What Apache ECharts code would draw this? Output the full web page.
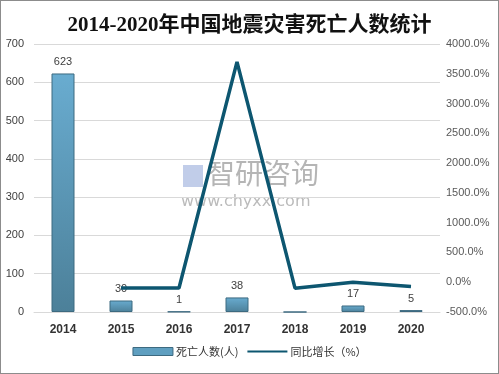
<!DOCTYPE html>
<html><head><meta charset="utf-8">
<script src="https://cdn.jsdelivr.net/npm/echarts@6/dist/echarts.min.js"></script>
<style>html,body{margin:0;padding:0;background:#fff}#c{width:497px;height:372px;border:1px solid #8c8c8c}</style>
</head><body><div id="c"></div>
<script>
const years = ['2014','2015','2016','2017','2018','2019','2020'];
const deaths = [623, 30, 1, 38, 0, 17, 5];
const growth = [null, -95.2, -96.7, 3700, -100, 0, -70.6];
const leftTicks = [0, 700, 100];
const rightTicks = [-500, 4000, 500];

const chart = echarts.init(document.getElementById('c'));
chart.setOption({
  animation: false,
  title: {
    text: '2014-2020年中国地震灾害死亡人数统计',
    left: 'center', top: 9,
    textStyle: {fontFamily: 'Liberation Serif, Noto Sans CJK SC', fontSize: 21, fontWeight: 'bold', color: '#111'}
  },
  graphic: [
    {type: 'text', left: 206, top: 158, style: {text: '智研咨询', fill: 'rgba(120,120,120,0.55)', font: '28px "Noto Sans CJK SC"'}},
    {type: 'text', left: 180, top: 193, style: {text: 'www.chyxx.com', fill: 'rgba(120,120,120,0.5)', font: '16px "DejaVu Sans"'}},
    {type: 'rect', left: 182, top: 164, shape: {width: 20, height: 22}, style: {fill: 'rgba(100,130,200,0.4)'}}
  ],
  grid: {left: 33, right: 58, top: 43, bottom: 61},
  legend: {
    bottom: 11, left: 'center', itemGap: 8,
    textStyle: {fontFamily: 'Noto Sans CJK SC', fontSize: 11, color: '#333', padding: [0, 0, 0, -2]},
    data: [
      {name: '死亡人数(人)', icon: 'rect', itemStyle: {color: '#5f9fc0', borderColor: '#3d6a80', borderWidth: 1}},
      {name: '同比增长（%）', itemStyle: {opacity: 0}}
    ],
    itemWidth: 40, itemHeight: 8
  },
  xAxis: {
    type: 'category', data: years,
    axisLine: {lineStyle: {color: '#d9d9d9'}}, axisTick: {show: false},
    axisLabel: {fontFamily: 'Liberation Sans', fontSize: 12, fontWeight: 'bold', color: '#333', margin: 12}
  },
  yAxis: [
    {type: 'value', min: leftTicks[0], max: leftTicks[1], interval: leftTicks[2],
     axisLine: {show: false}, axisTick: {show: false},
     splitLine: {lineStyle: {color: '#d9d9d9'}},
     axisLabel: {fontFamily: 'Liberation Sans', fontSize: 11, color: '#404040', margin: 10}},
    {type: 'value', min: rightTicks[0], max: rightTicks[1], interval: rightTicks[2],
     axisLine: {show: false}, axisTick: {show: false}, splitLine: {show: false},
     axisLabel: {fontFamily: 'Liberation Sans', fontSize: 11, color: '#595959', margin: 6,
       formatter: v => v.toFixed(1) + '%'}}
  ],
  series: [
    {name: '死亡人数(人)', type: 'bar', data: deaths, barWidth: 23,
     itemStyle: {borderColor: '#3d6a80', borderWidth: 1,
       color: new echarts.graphic.LinearGradient(0,0,0,1,[{offset:0,color:'#69acd0'},{offset:1,color:'#4c8099'}])},
     label: {show: true, position: 'top', fontFamily: 'Liberation Sans', fontSize: 11, color: '#404040', distance: 6,
       formatter: p => p.value === 0 ? '' : p.value}},
    {name: '同比增长（%）', type: 'line', yAxisIndex: 1, data: growth, symbol: 'none',
     lineStyle: {color: '#0d5670', width: 3.5}, itemStyle: {color: '#0d5670'}}
  ]
});
</script></body></html>
